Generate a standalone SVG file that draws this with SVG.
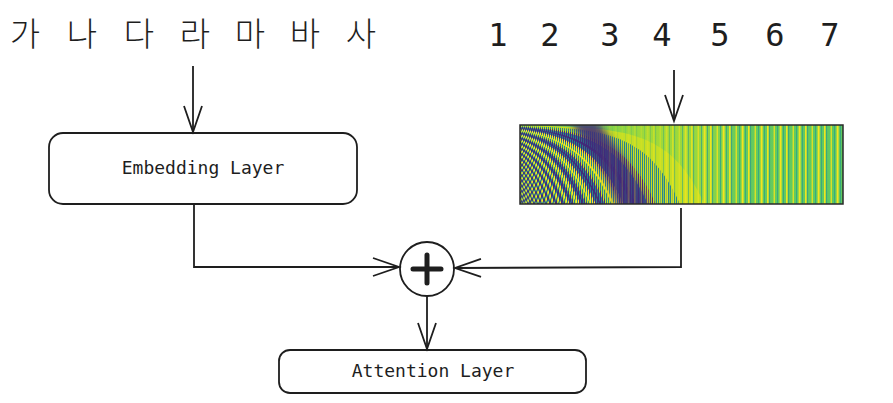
<svg xmlns="http://www.w3.org/2000/svg" xmlns:xlink="http://www.w3.org/1999/xlink" width="893" height="403" viewBox="0 0 893 403">
<style>
.ko{font-family:"Noto Sans CJK KR","Noto Sans CJK SC",sans-serif;font-size:33px;font-weight:300;fill:#1e1e1e;text-anchor:middle}
.num{font-family:"DejaVu Sans Mono","Liberation Mono",monospace;font-size:32px;fill:#1e1e1e;text-anchor:middle}
.lbl{font-family:"DejaVu Sans Mono","Liberation Mono",monospace;font-size:18px;fill:#1e1e1e;text-anchor:middle}
.box{fill:#ffffff;stroke:#1e1e1e;stroke-width:1.8}
.conn{fill:none;stroke:#1e1e1e;stroke-width:1.8;marker-end:url(#ah)}
.Y{fill:#c4df25}.T{fill:#2a848d}.P{fill:#432a7a}.C{fill:#fde725}
</style>
<defs>
<marker id="ah" markerUnits="userSpaceOnUse" viewBox="0 0 30 22" markerWidth="30" markerHeight="22" refX="27" refY="11" orient="auto">
<path d="M1,2 L27,11 L1,20" fill="none" stroke="#1e1e1e" stroke-width="1.8" stroke-linejoin="miter"/>
</marker>
<clipPath id="pe-clip"><rect x="520" y="125" width="323" height="79"/></clipPath>
<filter id="soft" x="-0.3" y="-0.3" width="1.6" height="1.6"><feGaussianBlur stdDeviation="3.5"/></filter>
<path id="band" d="M-400,125 L-250,125.06 L-170,125.6 L-130,126.9 L-100,129.6 L-80,133.1 L-70,135.7 L-60,139.3 L-50,144 L-40,150.3 L-35,154.1 L-30,158.6 L-25,163.7 L-20,169.7 L-15,176.5 L-10,184.4 L-5,193.5 L0,204 L0,210 L-400,210 Z"/>
<linearGradient id="pe-bg" gradientUnits="userSpaceOnUse" x1="520" y1="0" x2="843" y2="0">
<stop offset="0" stop-color="#3aa985"/>
<stop offset="0.25" stop-color="#7fd34e"/>
<stop offset="0.4" stop-color="#a2da37"/>
<stop offset="0.55" stop-color="#98d83e"/>
<stop offset="0.68" stop-color="#66cb5d"/>
<stop offset="1" stop-color="#5ec962"/>
</linearGradient>
<pattern id="cols" patternUnits="userSpaceOnUse" x="520" y="125" width="2" height="79">
<rect x="0" y="0" width="1" height="79" fill="#fff"/>
</pattern>
<mask id="cos-mask" maskUnits="userSpaceOnUse" x="520" y="125" width="323" height="79">
<rect x="520" y="125" width="323" height="79" fill="url(#cols)"/>
</mask>
<pattern id="stripes" patternUnits="userSpaceOnUse" x="520" y="125" width="19" height="79">
<rect x="0" y="0" width="1.6" height="79" fill="#f0e41f"/>
<rect x="2.3" y="0" width="0.8" height="79" fill="#2a9a8a"/>
<rect x="6.6" y="0" width="1.3" height="79" fill="#e8e220"/>
<rect x="10" y="0" width="0.8" height="79" fill="#2fa287"/>
<rect x="12.6" y="0" width="2" height="79" fill="#f4e51e"/>
<rect x="16.2" y="0" width="0.7" height="79" fill="#2a9a8a"/>
</pattern>
<linearGradient id="fade" gradientUnits="userSpaceOnUse" x1="590" y1="0" x2="710" y2="0">
<stop offset="0" stop-color="#000"/>
<stop offset="0.45" stop-color="#555"/>
<stop offset="1" stop-color="#fff"/>
</linearGradient>
<mask id="stripe-mask" maskUnits="userSpaceOnUse" x="520" y="125" width="323" height="79">
<rect x="520" y="125" width="323" height="79" fill="url(#fade)"/>
</mask>
</defs>
<rect width="893" height="403" fill="#ffffff"/>

<g id="tokens">
<text class="ko" x="25" y="46">가</text>
<text class="ko" x="82" y="46">나</text>
<text class="ko" x="139" y="46">다</text>
<text class="ko" x="195" y="46">라</text>
<text class="ko" x="250" y="46">마</text>
<text class="ko" x="305" y="46">바</text>
<text class="ko" x="361" y="46">사</text>
</g>

<g id="positions">
<text class="num" x="498" y="46">1</text>
<text class="num" x="550" y="46">2</text>
<text class="num" x="610" y="46">3</text>
<text class="num" x="662" y="46">4</text>
<text class="num" x="720" y="46">5</text>
<text class="num" x="775" y="46">6</text>
<text class="num" x="830" y="46">7</text>
</g>

<g id="embedding-layer">
<rect class="box" x="49" y="133" width="308" height="71" rx="14"/>
<text class="lbl" x="203" y="174">Embedding Layer</text>
</g>

<g id="positional-encoding">
<g clip-path="url(#pe-clip)">
<rect x="520" y="125" width="323" height="79" fill="url(#pe-bg)"/>
<g id="pe-sin">
<use href="#band" x="704.3" class="Y"/><use href="#band" x="647.8" class="T"/><use href="#band" x="636.0" class="P"/><use href="#band" x="620.2" class="T"/>
<use href="#band" x="614.3" class="Y"/><use href="#band" x="604.9" class="T"/><use href="#band" x="601.0" class="P"/><use href="#band" x="594.3" class="T"/>
<use href="#band" x="591.4" class="Y"/><use href="#band" x="586.1" class="T"/><use href="#band" x="583.8" class="P"/><use href="#band" x="579.5" class="T"/>
<use href="#band" x="577.6" class="Y"/><use href="#band" x="574.0" class="T"/><use href="#band" x="572.3" class="P"/><use href="#band" x="569.2" class="T"/>
<use href="#band" x="567.7" class="Y"/><use href="#band" x="565.0" class="T"/><use href="#band" x="563.7" class="P"/><use href="#band" x="561.2" class="T"/>
<use href="#band" x="560.1" class="Y"/><use href="#band" x="557.8" class="T"/><use href="#band" x="556.8" class="P"/><use href="#band" x="554.7" class="T"/>
<use href="#band" x="553.8" class="Y"/><use href="#band" x="551.9" class="T"/><use href="#band" x="551.0" class="P"/><use href="#band" x="549.2" class="T"/>
<use href="#band" x="548.4" class="Y"/><use href="#band" x="546.8" class="T"/><use href="#band" x="546.0" class="P"/><use href="#band" x="544.5" class="T"/>
<use href="#band" x="543.8" class="Y"/><use href="#band" x="542.4" class="T"/><use href="#band" x="541.7" class="P"/><use href="#band" x="540.3" class="T"/>
<use href="#band" x="539.7" class="Y"/><use href="#band" x="538.4" class="T"/><use href="#band" x="537.8" class="P"/><use href="#band" x="536.6" class="T"/>
<use href="#band" x="536.0" class="Y"/><use href="#band" x="534.9" class="T"/><use href="#band" x="534.3" class="P"/><use href="#band" x="533.2" class="T"/>
<use href="#band" x="532.7" class="Y"/><use href="#band" x="531.7" class="T"/><use href="#band" x="531.2" class="P"/><use href="#band" x="530.2" class="T"/>
<use href="#band" x="529.7" class="Y"/><use href="#band" x="528.7" class="T"/><use href="#band" x="528.3" class="P"/><use href="#band" x="527.3" class="T"/>
<use href="#band" x="526.9" class="Y"/><use href="#band" x="526.0" class="T"/><use href="#band" x="525.6" class="P"/><use href="#band" x="524.7" class="T"/>
<use href="#band" x="524.3" class="Y"/><use href="#band" x="523.5" class="T"/><use href="#band" x="523.1" class="P"/><use href="#band" x="522.3" class="T"/>
<use href="#band" x="521.9" class="Y"/><use href="#band" x="521.1" class="T"/><use href="#band" x="520.7" class="P"/>
</g>
<g id="pe-cos" mask="url(#cos-mask)">
<use href="#band" x="680.0" class="T"/><use href="#band" x="655.7" class="P"/><use href="#band" x="631.3" class="T"/><use href="#band" x="623.5" class="C"/>
<use href="#band" x="611.7" class="T"/><use href="#band" x="607.0" class="P"/><use href="#band" x="599.2" class="T"/><use href="#band" x="595.8" class="C"/>
<use href="#band" x="590.0" class="T"/><use href="#band" x="587.4" class="P"/><use href="#band" x="582.7" class="T"/><use href="#band" x="580.6" class="C"/>
<use href="#band" x="576.7" class="T"/><use href="#band" x="574.9" class="P"/><use href="#band" x="571.5" class="T"/><use href="#band" x="570.0" class="C"/>
<use href="#band" x="567.0" class="T"/><use href="#band" x="565.7" class="P"/><use href="#band" x="563.1" class="T"/><use href="#band" x="561.8" class="C"/>
<use href="#band" x="559.5" class="T"/><use href="#band" x="558.4" class="P"/><use href="#band" x="556.2" class="T"/><use href="#band" x="555.2" class="C"/>
<use href="#band" x="553.3" class="T"/><use href="#band" x="552.3" class="P"/><use href="#band" x="550.5" class="T"/><use href="#band" x="549.7" class="C"/>
<use href="#band" x="548.0" class="T"/><use href="#band" x="547.2" class="P"/><use href="#band" x="545.6" class="T"/><use href="#band" x="544.9" class="C"/>
<use href="#band" x="543.4" class="T"/><use href="#band" x="542.7" class="P"/><use href="#band" x="541.3" class="T"/><use href="#band" x="540.7" class="C"/>
<use href="#band" x="539.4" class="T"/><use href="#band" x="538.7" class="P"/><use href="#band" x="537.5" class="T"/><use href="#band" x="536.9" class="C"/>
<use href="#band" x="535.7" class="T"/><use href="#band" x="535.2" class="P"/><use href="#band" x="534.0" class="T"/><use href="#band" x="533.5" class="C"/>
<use href="#band" x="532.4" class="T"/><use href="#band" x="531.9" class="P"/><use href="#band" x="530.9" class="T"/><use href="#band" x="530.4" class="C"/>
<use href="#band" x="529.4" class="T"/><use href="#band" x="529.0" class="P"/><use href="#band" x="528.0" class="T"/><use href="#band" x="527.6" class="C"/>
<use href="#band" x="526.7" class="T"/><use href="#band" x="526.2" class="P"/><use href="#band" x="525.4" class="T"/><use href="#band" x="524.9" class="C"/>
<use href="#band" x="524.1" class="T"/><use href="#band" x="523.7" class="P"/><use href="#band" x="522.9" class="T"/><use href="#band" x="522.5" class="C"/>
<use href="#band" x="521.7" class="T"/><use href="#band" x="521.3" class="P"/><use href="#band" x="520.6" class="T"/>
</g>
<path d="M570,122 L598,122 C615,145 636,172 650,208 L618,208 C610,182 595,152 570,122 Z" fill="#3f2b7a" opacity="0.85" filter="url(#soft)"/>
<rect x="520" y="125" width="323" height="79" fill="url(#stripes)" mask="url(#stripe-mask)"/>
</g>
<rect x="520" y="125" width="323" height="79" fill="none" stroke="#2a2a2a" stroke-width="1.5"/>
</g>

<g id="add">
<circle cx="427" cy="269" r="27" fill="#ffffff" stroke="#1e1e1e" stroke-width="1.8"/>
<path d="M413,269 H441 M427,255 V283" stroke="#1e1e1e" stroke-width="5" stroke-linecap="round" fill="none"/>
</g>

<g id="attention-layer">
<rect class="box" x="279" y="350" width="307" height="43" rx="11"/>
<text class="lbl" x="433" y="377">Attention Layer</text>
</g>

<g id="connectors">
<path class="conn" d="M193,66 L193,132"/>
<path class="conn" d="M674,70 L674,121"/>
<path class="conn" d="M194,204 L194,267 L399,267"/>
<path class="conn" d="M681,208 L681,267 L455,268"/>
<path class="conn" d="M427,296 L427,349"/>
</g>
</svg>
